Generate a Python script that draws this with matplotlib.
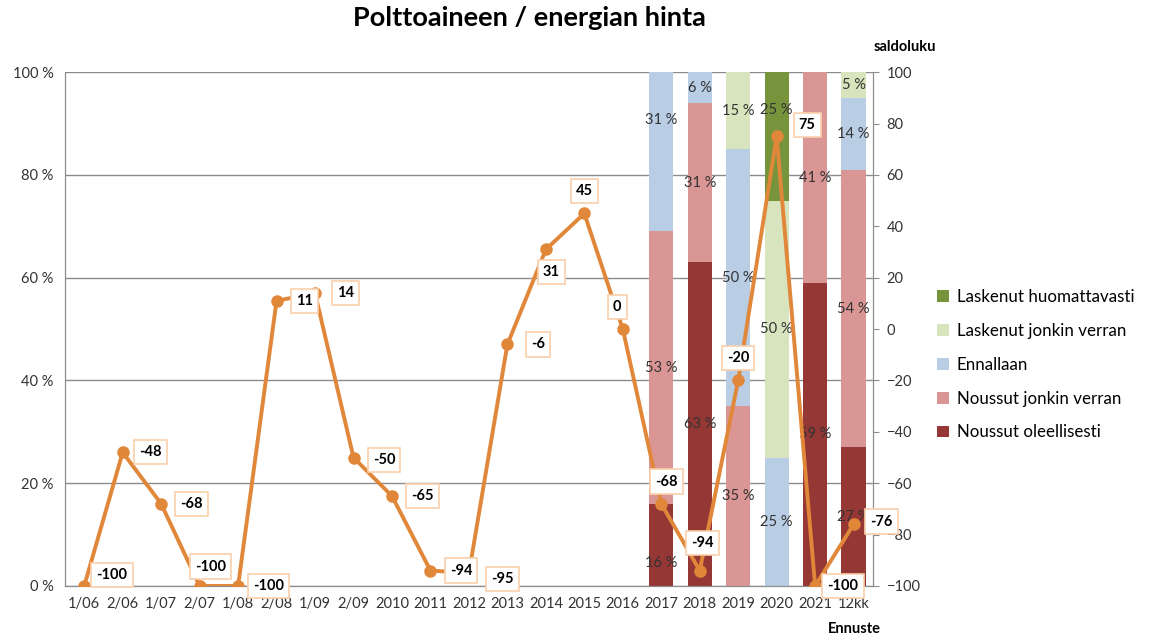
import numpy as np
import matplotlib.pyplot as plt
from matplotlib.ticker import FuncFormatter

plt.rcParams['font.family'] = ['Lato', 'DejaVu Sans']

categories = ["1/06", "2/06", "1/07", "2/07", "1/08", "2/08", "1/09", "2/09", "2010", "2011",
              "2012", "2013", "2014", "2015", "2016", "2017", "2018", "2019", "2020", "2021", "12kk"]
saldo = [-100, -48, -68, -100, -100, 11, 14, -50, -65, -94,
         -95, -6, 31, 45, 0, -68, -94, -20, 75, -100, -76]

# bars only for the last six categories
bar_cats = ["2017", "2018", "2019", "2020", "2021", "12kk"]
noussut_oleell = [16, 63, 0, 0, 59, 27]
noussut_jonkin = [53, 31, 35, 0, 41, 54]
ennallaan = [31, 6, 50, 25, 0, 14]
laskenut_jonkin = [0, 0, 15, 50, 0, 5]
laskenut_huom = [0, 0, 0, 25, 0, 0]

series = [("Noussut oleellisesti", noussut_oleell, "#953735"),
          ("Noussut jonkin verran", noussut_jonkin, "#D99694"),
          ("Ennallaan", ennallaan, "#B9CDE5"),
          ("Laskenut jonkin verran", laskenut_jonkin, "#D7E4BD"),
          ("Laskenut huomattavasti", laskenut_huom, "#77933C")]

# label offsets (points) for the saldo labels
offsets = {0: (20, 8), 1: (20, 0), 2: (22, 0), 3: (8, 14), 4: (22, 0), 5: (20, 0),
           6: (22, 0), 7: (22, -2), 8: (22, 0), 9: (22, 0), 10: (24, -4), 11: (22, 0),
           12: (4, -16), 13: (0, 16), 14: (-4, 16), 15: (4, 16), 16: (2, 20),
           17: (0, 16), 18: (22, 8), 19: (20, 0), 20: (20, 2)}
# a few bar labels were moved by hand in the original (series, bar) -> y in %
moved = {(0, 0): 4.5, (2, 0): 90.7, (4, 3): 92.6}

fig = plt.figure(figsize=(11.5, 6.39), dpi=100)
ax = fig.add_axes([0.0565, 0.083, 0.7025, 0.804])
ax2 = ax.twinx()

x = np.arange(len(categories))
bx = np.array([categories.index(c) for c in bar_cats])
bottom = np.zeros(len(bar_cats))
handles = []
for si, (name, vals, col) in enumerate(series):
    vals = np.array(vals, dtype=float)
    h = ax.bar(bx, vals, bottom=bottom, width=0.63, color=col, label=name, zorder=2)
    handles.append(h)
    for bi, (xi, b, v) in enumerate(zip(bx, bottom, vals)):
        if v > 0:
            ty = moved.get((si, bi), b + v / 2)
            ax.text(xi, ty, f"{int(v)} %", ha="center", va="center",
                    fontsize=10.5, color="#333333", zorder=3)
    bottom += vals

ax.set_xlim(-0.5, len(categories) - 0.5)
ax.set_ylim(0, 100)
ax.set_yticks(np.arange(0, 101, 20))
ax.yaxis.set_major_formatter(FuncFormatter(lambda v, p: f"{int(v)} %"))
ax.set_xticks(x)
ax.set_xticklabels(categories)
ax.grid(axis="y", color="#8c8c8c", linewidth=1, zorder=0)
ax.set_axisbelow(True)
ax.spines["top"].set_visible(False)
for s in ["left", "bottom", "right"]:
    ax.spines[s].set_color("#8c8c8c")
ax.tick_params(axis="x", length=0, labelsize=10.5, colors="#333333", pad=8)
ax.tick_params(axis="y", length=0, labelsize=10.5, colors="#333333", pad=8)

ax2.plot(x, saldo, color="#E1873A", linewidth=2.8, marker="o", markersize=8, zorder=4)
for i, v in enumerate(saldo):
    dx, dy = offsets[i]
    ax2.annotate(str(v), (x[i], v), xytext=(dx, dy), textcoords="offset points",
                 ha="center", va="center", fontsize=10.5, fontweight="bold", color="black",
                 bbox=dict(boxstyle="square,pad=0.35", fc="white", ec="#FBD0AC", lw=1.2),
                 zorder=5)
ax2.set_ylim(-100, 100)
ax2.set_yticks(np.arange(-100, 101, 20))
ax2.tick_params(axis="y", length=4, direction="out", color="#8c8c8c", labelsize=10.5,
                labelcolor="#333333", pad=6)
ax2.spines["top"].set_visible(False)
for s in ["left", "bottom", "right"]:
    ax2.spines[s].set_color("#8c8c8c")

fig.text(0.787, 0.92, "saldoluku", fontsize=10.5, fontweight="bold", ha="center")
fig.text(0.743, 0.01, "Ennuste", fontsize=10.5, fontweight="bold", ha="center")
fig.suptitle("Polttoaineen / energian hinta", fontsize=19.5, fontweight="bold", x=0.46, y=0.99)

fig.legend(handles[::-1], [h.get_label() for h in handles[::-1]], loc="center left",
           bbox_to_anchor=(0.815, 0.429), frameon=False, fontsize=12.2, borderpad=0,
           borderaxespad=0, handlelength=0.7, handleheight=0.7, labelspacing=1.05,
           handletextpad=0.45)

fig.savefig("out.png", dpi=100)
